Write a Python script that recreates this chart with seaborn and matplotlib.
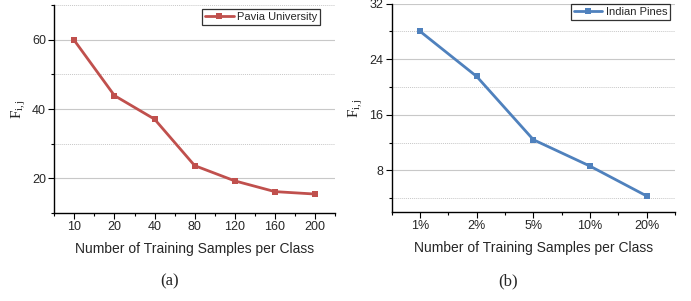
import numpy as np
import pandas as pd
import matplotlib
matplotlib.use('Agg')
import matplotlib.pyplot as plt
from matplotlib.ticker import MultipleLocator, FixedLocator
import seaborn as sns

# --- data ---
pu_samples = ['10', '20', '40', '80', '120', '160', '200']
pu_values = [59.8, 43.9, 37.1, 23.7, 19.3, 16.2, 15.5]

ip_samples = ['1%', '2%', '5%', '10%', '20%']
ip_values = [28.0, 21.5, 12.4, 8.6, 4.3]

red = '#C0504D'
blue = '#4F81BD'

sns.set_theme(style='white')
plt.rcParams['font.family'] = ['Liberation Sans', 'DejaVu Sans']
plt.rcParams['mathtext.fontset'] = 'custom'
plt.rcParams['mathtext.rm'] = 'Liberation Serif'
plt.rcParams['mathtext.it'] = 'Liberation Serif'

W, H = 691, 301
fig = plt.figure(figsize=(W / 100, H / 100), dpi=100)
ax1 = fig.add_axes([0.0786, 0.292, 0.4062, 0.691])
ax2 = fig.add_axes([0.5669, 0.2957, 0.41, 0.6926])


def draw_panel(ax, cats, vals, color, label, ylim, major, minor_grid, leg_xy):
    df = pd.DataFrame({'x': cats, 'y': vals})
    sns.lineplot(data=df, x='x', y='y', ax=ax, color=color, marker='s',
                 markersize=4.5, markeredgewidth=0, linewidth=2, label=label,
                 sort=False)
    n = len(cats)
    ax.set_xlim(-0.5, n - 0.5)
    ax.set_ylim(*ylim)
    ax.yaxis.set_major_locator(MultipleLocator(major))
    ax.yaxis.set_minor_locator(MultipleLocator(major / 2))
    ax.xaxis.set_minor_locator(FixedLocator(np.arange(-0.5, n, 1.0)))
    ax.grid(True, which='major', axis='y', color='#c8c8c8', linewidth=0.8)
    for v in minor_grid:
        ax.axhline(v, color='#c8c8c8', linewidth=0.7, linestyle=(0, (1, 1)), zorder=0)
    ax.set_axisbelow(True)
    for s in ['top', 'right']:
        ax.spines[s].set_visible(False)
    for s in ['left', 'bottom']:
        ax.spines[s].set_color('black')
        ax.spines[s].set_linewidth(1.0)
    ax.tick_params(axis='both', which='major', direction='out', length=4,
                   width=0.8, color='black', labelsize=9, pad=2,
                   left=True, bottom=True)
    ax.tick_params(axis='both', which='minor', direction='out', length=2.5,
                   width=0.8, color='black', left=True, bottom=True)
    ax.set_xlabel('Number of Training Samples per Class', fontsize=10, labelpad=6)
    ax.set_ylabel(r'$\mathrm{F}_{\mathrm{i,j}}$', fontsize=11, labelpad=3)
    leg = ax.legend(loc='upper right', fontsize=8, frameon=True, fancybox=False,
                    handlelength=2.6, handletextpad=0.3, borderpad=0.25,
                    borderaxespad=0, bbox_to_anchor=leg_xy,
                    bbox_transform=fig.transFigure)
    leg.get_frame().set_edgecolor('black')
    leg.get_frame().set_linewidth(0.9)


draw_panel(ax1, pu_samples, pu_values, red, 'Pavia University', (10, 70), 20,
           [30, 50, 70], (320 / W, 1 - 9 / H))
draw_panel(ax2, ip_samples, ip_values, blue, 'Indian Pines', (2, 32), 8,
           [4, 12, 20, 28], (670 / W, 1 - 4 / H))

fig.text(0.246, 0.052, '(a)', family='Liberation Serif', fontsize=12, ha='center')
fig.text(0.735, 0.052, '(b)', family='Liberation Serif', fontsize=12, ha='center')

fig.savefig('out.png', dpi=100)
